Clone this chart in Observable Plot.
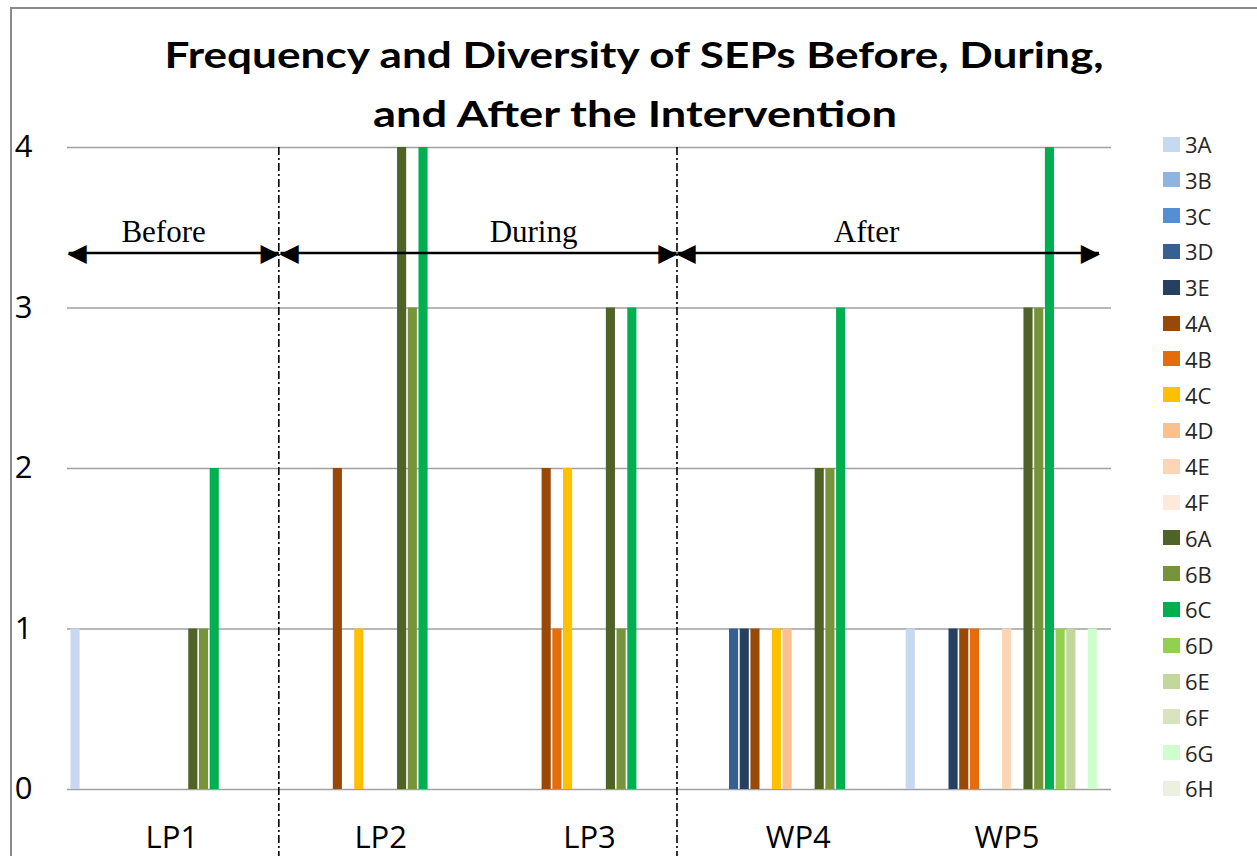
<!DOCTYPE html>
<html>
<head>
<meta charset="utf-8">
<script src="https://cdn.jsdelivr.net/npm/d3@7"></script>
<script src="https://cdn.jsdelivr.net/npm/@observablehq/plot@0.6"></script>
<style>
  html, body { margin: 0; padding: 0; background: #fff; overflow: hidden; }
  #wrap { position: relative; width: 1257px; height: 856px; overflow: hidden; background: #fff; }
  #chart { position: absolute; left: 0; top: 0; }
  #border { position: absolute; left: 10px; top: 7px; width: 1400px; height: 1000px;
            border-left: 2px solid #8a8a8a; border-top: 2px solid #8a8a8a; pointer-events: none; }
  #title { position: absolute; left: 0; top: 0; }
  .lg { position: absolute; left: 1163px; height: 22px; display: flex; align-items: center;
        font-family: "Open Sans", sans-serif; font-size: 22px; color: #262626; white-space: nowrap; }
  .lg .sw { width: 17px; height: 15px; margin-right: 5px; }
</style>
</head>
<body>
<div id="wrap">
  <div id="chart"></div>
  <svg id="title" width="1257" height="150">
    <text x="634" y="68" text-anchor="middle" font-family="Lato" font-weight="700" font-size="37"
          textLength="939" lengthAdjust="spacingAndGlyphs" fill="#000">Frequency and Diversity of SEPs Before, During,</text>
    <text x="635" y="127" text-anchor="middle" font-family="Lato" font-weight="700" font-size="37"
          textLength="524" lengthAdjust="spacingAndGlyphs" fill="#000">and After the Intervention</text>
  </svg>
  <div id="legend"></div>
  <div id="border"></div>
</div>
<script>
// ---- data ----
const categories = ["LP1", "LP2", "LP3", "WP4", "WP5"];
const series = ["3A","3B","3C","3D","3E","4A","4B","4C","4D","4E","4F","6A","6B","6C","6D","6E","6F","6G","6H"];
const colors = ["#C6D9F1","#8DB4E2","#558ED5","#376092","#254061","#984807","#E46C0A","#FFC000","#FAC090","#FCD5B5","#FDEADA","#4F6228","#77933C","#00B050","#92D050","#C3D69B","#D7E4BD","#CCFFCC","#EBF1DE"];
//             3A 3B 3C 3D 3E 4A 4B 4C 4D 4E 4F 6A 6B 6C 6D 6E 6F 6G 6H
const LP1 = [  1, 0, 0, 0, 0, 0, 0, 0, 0, 0, 0, 1, 1, 2, 0, 0, 0, 0, 0];
const LP2 = [  0, 0, 0, 0, 0, 2, 0, 1, 0, 0, 0, 4, 3, 4, 0, 0, 0, 0, 0];
const LP3 = [  0, 0, 0, 0, 0, 2, 1, 2, 0, 0, 0, 3, 1, 3, 0, 0, 0, 0, 0];
const WP4 = [  0, 0, 0, 1, 1, 1, 0, 1, 1, 0, 0, 2, 2, 3, 0, 0, 0, 0, 0];
const WP5 = [  1, 0, 0, 0, 1, 1, 1, 0, 0, 1, 0, 3, 3, 4, 1, 1, 0, 1, 0];
const yTicks = [0, 1, 2, 3, 4];

// annotations (phases of the intervention)
const phaseNames  = ["Before", "During", "After"];
const phaseStart  = [0.005, 1.02, 2.921];
const phaseEnd    = [1.012, 2.917, 4.94];
const phaseLabelX = [0.46, 2.232, 3.827];
const arrowLevel  = 3.343;
const dividers    = [1.012, 2.919];

// ---- build table ----
const rows = [LP1, LP2, LP3, WP4, WP5];
const inner = d3.scaleBand().domain(d3.range(series.length)).range([0, 1]).paddingInner(0).paddingOuter(0.25);
const bars = [];
rows.forEach((vals, ci) => vals.forEach((v, si) => {
  if (v > 0) bars.push({cat: categories[ci], series: series[si], value: v,
    x1: ci + inner(si), x2: ci + inner(si) + inner.bandwidth()});
}));
const phases = phaseNames.map((n, i) => ({name: n, x1: phaseStart[i], x2: phaseEnd[i], lx: phaseLabelX[i]}));

const plot = Plot.plot({
  width: 1257, height: 856,
  marginLeft: 67, marginRight: 146, marginTop: 147, marginBottom: 67,
  style: {fontFamily: "Open Sans", fontSize: "31px", color: "#000", background: "transparent", overflow: "visible"},
  x: {domain: [0, categories.length], ticks: categories.map((c, i) => i + 0.5),
      tickFormat: d => categories[Math.floor(d)], tickSize: 0, tickPadding: 36, label: null},
  y: {domain: [0, 4], ticks: yTicks, tickSize: 0, tickPadding: 35, label: null, tickFormat: d => String(d)},
  color: {domain: series, range: colors},
  marks: [
    Plot.ruleY(yTicks, {stroke: "#a0a0a0", strokeWidth: 1.5}),
    Plot.rectY(bars, {x1: "x1", x2: "x2", y: "value", fill: "series", insetLeft: 0.8, insetRight: 0.8}),
    Plot.ruleX(dividers, {y1: 4, y2: -0.42, stroke: "#000", strokeWidth: 1.6, strokeDasharray: "8,3,2,3"}),
    Plot.link(phases, {x1: "x1", x2: "x2", y1: arrowLevel, y2: arrowLevel, stroke: "#000", strokeWidth: 2.6}),
    Plot.text(phases, {x: "x1", y: arrowLevel, text: () => "\u25C0", textAnchor: "start", lineAnchor: "middle",
      fontFamily: "DejaVu Sans", fontSize: 25, fill: "#000", dx: -1}),
    Plot.text(phases, {x: "x2", y: arrowLevel, text: () => "\u25B6", textAnchor: "end", lineAnchor: "middle",
      fontFamily: "DejaVu Sans", fontSize: 25, fill: "#000", dx: 1}),
    Plot.text(phases, {x: "lx", y: arrowLevel, text: "name", dy: -21, lineAnchor: "middle",
      fontFamily: "Liberation Serif", fontSize: 31, fill: "#000"})
  ]
});
document.getElementById("chart").appendChild(plot);

// legend
const lg = document.getElementById("legend");
series.forEach((s, i) => {
  const row = document.createElement("div");
  row.className = "lg";
  row.style.top = (133 + i * 35.8) + "px";
  const sw = document.createElement("span");
  sw.className = "sw";
  sw.style.background = colors[i];
  const t = document.createElement("span");
  t.textContent = s;
  row.appendChild(sw); row.appendChild(t);
  lg.appendChild(row);
});
</script>
</body>
</html>
